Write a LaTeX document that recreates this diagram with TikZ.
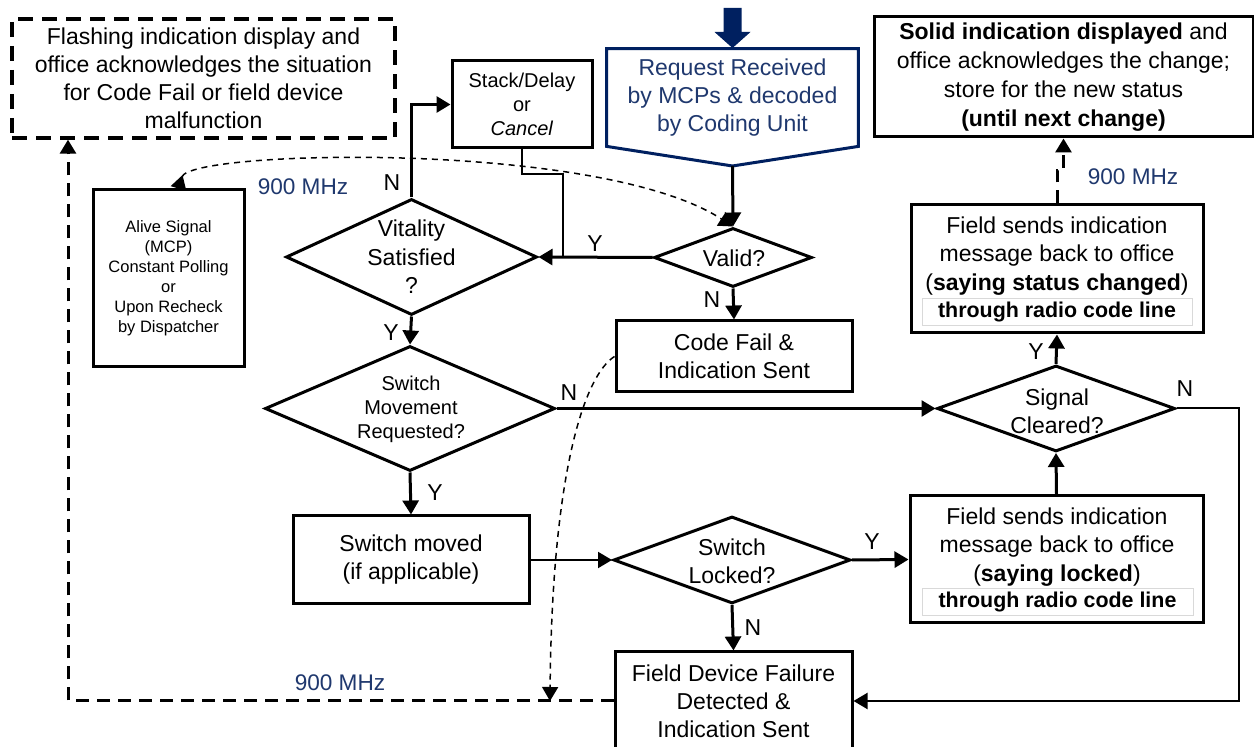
\documentclass[tikz,border=0pt]{standalone}
\usepackage{fontspec}
\setmainfont{Liberation Sans}
\usetikzlibrary{arrows.meta,shapes.geometric,calc}
\definecolor{navy}{RGB}{31,56,110}
\definecolor{navyfill}{RGB}{0,32,96}
\newcommand{\myfs}[2]{\fontsize{#1}{#2}\selectfont}
\tikzset{
  px/.style 2 args={minimum width=#1*0.5pt, minimum height=#2*0.5pt},
  box/.style={draw, line width=1.5pt, rectangle, inner sep=0pt, align=center, font=\myfs{11.5}{14}},
  dia/.style={draw, line width=1.5pt, diamond, inner sep=0pt},
  txt/.style={inner sep=0pt, align=center, font=\myfs{11.5}{14}},
  yn/.style={inner sep=0pt, font=\myfs{11.5}{14}},
  mhz/.style={inner sep=0pt, text=navy, font=\myfs{11.3}{14}},
  tip/.style={-{Triangle[length=7pt,width=8pt]}},
  con/.style={tip, line width=1.5pt},
  conthin/.style={tip, line width=1pt},
  dashthick/.style={line width=1.5pt, dash pattern=on 6.5pt off 4pt},
  dashthin/.style={line width=0.75pt, dash pattern=on 3pt off 2.5pt},
  radio/.style={draw=black!15, line width=0.5pt, fill=white, inner sep=0pt, font=\bfseries\myfs{10.7}{13}},
}
\begin{document}
\begin{tikzpicture}[x=0.5pt,y=-0.5pt]
\useasboundingbox (0,0) rectangle (1254,747);
\fill[white] (0,0) rectangle (1254,747);

% ---- boxes ----
\node[box, px={383}{119}, line width=1.7pt, dash pattern=on 7.5pt off 4.5pt] (flash) at (203.5,78.5)
  {Flashing indication display and\\office acknowledges the situation\\for Code Fail or field device\\malfunction};
\node[box, px={140}{87}, font=\myfs{10}{12}] (stack) at (522,104.5) {Stack/Delay\\or\\\textit{Cancel}};
\node[inner sep=0pt, px={251}{97}, align=center, text=navy, font=\myfs{11.5}{14}] (req) at (732.5,97.5)
  {Request Received\\by MCPs \& decoded\\by Coding Unit};
\coordinate (reqtip) at (732.5,166);
\node[box, px={379}{120}, font=\myfs{11.5}{14.5}] (solid) at (1063.5,77)
  {\textbf{Solid indication displayed} and\\office acknowledges the change;\\store for the new status\\\textbf{(until next change)}};
\node[box, px={151}{177}, font=\myfs{8.25}{10}] (alive) at (168.5,278.5)
  {Alive Signal\\(MCP)\\Constant Polling\\or\\Upon Recheck\\by Dispatcher};
\node[box, px={236}{71}] (cf) at (734,356.5) {Code Fail \&\\Indication Sent};
\node[box, px={292}{128}] (fsc) at (1057,269) {};
\node[txt, font=\myfs{11.5}{14.3}] (fscT) at (1057,256) {Field sends indication\\message back to office\\(\textbf{saying status changed})};
\node[radio, px={270}{27}] (thr1) at (1057,312.5) {through radio code line};
\node[box, px={236}{88}] (sm) at (411,560) {Switch moved\\(if applicable)};
\node[box, px={293}{127}] (fsl) at (1056.5,559.5) {};
\node[txt, font=\myfs{11.5}{14.3}] (fslT) at (1057,547) {Field sends indication\\message back to office\\(\textbf{saying locked})};
\node[radio, px={271}{27}] (thr2) at (1057.5,602.5) {through radio code line};
\node[box, px={237}{98}] (fdf) at (733.5,701) {Field Device Failure\\Detected \&\\Indication Sent};

% ---- diamonds ----
\node[dia, px={251}{116}] (vit) at (411.5,257) {};
\node[txt, font=\myfs{11.5}{14.3}] (vitT) at (411.5,257) {Vitality\\Satisfied\\?};
\node[dia, px={158}{59}] (valid) at (733,257.5) {};
\node[txt] (validT) at (734,258) {Valid?};
\node[dia, px={290}{125}] (smr) at (410,408.5) {};
\node[txt, font=\myfs{10}{12}] (smrT) at (411,409) {Switch\\Movement\\Requested?};
\node[dia, px={237}{87}] (sl) at (732,560) {};
\node[txt] (slT) at (732,561) {Switch\\Locked?};
\node[dia, px={238}{86}] (sc) at (1056,408.5) {};
\node[txt] (scT) at (1057,411) {Signal\\Cleared?};

% ---- request shape and input arrow ----
\draw[navyfill, line width=1.5pt, line join=miter] (req.north west) -- (req.north east) -- (req.south east) -- (reqtip) -- (req.south west) -- cycle;
\fill[navyfill] (723.5,8) -- (741.5,8) -- (741.5,32) -- (750.5,32) -- (732.5,48) -- (714.5,32) -- (723.5,32) -- cycle;

% ---- connectors ----
\coordinate (sj) at (563,257.5);
\coordinate (nr) at (1239,701);
\coordinate (bl) at (68,701);
\coordinate (cfend) at (550,701);
\draw[con] (reqtip) -- (valid.north);
\draw[con] (valid.west) -- (vit.east);
\draw[line width=1pt] (stack.south) -- ++(0,25) -| (sj);
\draw[con] (vit.north) |- (stack.west);
\draw[con] (valid.south) -- (cf.north);
\draw[con] (vit.south) -- (smr.north);
\draw[con, line width=1.3pt] (smr.east) -- (sc.west);
\draw[con] (smr.south) -- (sm.north);
\draw[conthin] (sm.east) -- (sl.west);
\draw[con] (sl.east) -- (fsl.west);
\draw[con] (sl.south) -- (fdf.north);
\draw[con] (fsl.north) -- (sc.south);
\draw[con] (sc.north) -- (fsc.south);
\draw[conthin] (sc.east) -| (nr) -- (fdf.east);

% dashed
\draw[dashthick, tip] (fsc.north) -- ++(0,-33) -| (solid.south);
\draw[dashthick, tip] (fdf.west) -- (bl) -- (bl |- flash.south);
\draw[dashthin, {Triangle[reversed,length=7pt,width=8pt]}-{Triangle[length=7pt,width=8pt]}]
  ($(alive.north)+(10,0)$) .. controls (190,150) and (600,140) .. (valid.north);
\draw[dashthin, tip] (cf.west) .. controls (585,375) and (552,470) .. (cfend);

% ---- labels ----
\node[yn] (lvN) at (392,183) {N};
\node[yn] (lvY) at (391,333) {Y};
\node[yn] (lvaY) at (595,244) {Y};
\node[yn] (lvaN) at (712,300) {N};
\node[yn] (lsmN) at (569,393) {N};
\node[yn] (lsmY) at (435,493) {Y};
\node[yn] (lslY) at (872,542) {Y};
\node[yn] (lslN) at (753,628) {N};
\node[yn] (lscY) at (1036,352) {Y};
\node[yn] (lscN) at (1185,389) {N};
\node[mhz] (m1) at (303,187) {900 MHz};
\node[mhz] (m2) at (1133,177) {900 MHz};
\node[mhz] (m3) at (340,683) {900 MHz};
\end{tikzpicture}
\end{document}
